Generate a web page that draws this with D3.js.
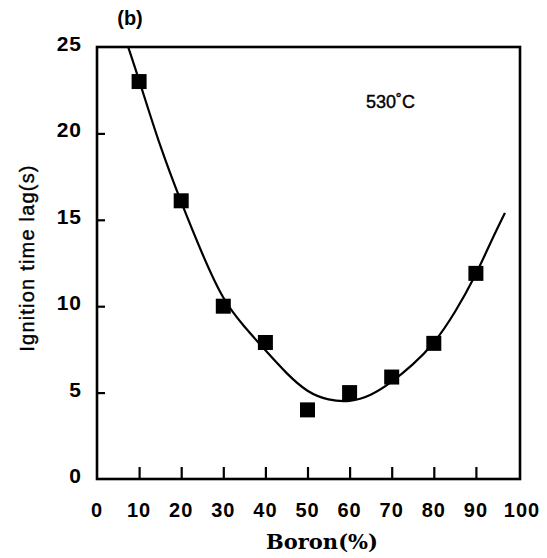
<!DOCTYPE html>
<html>
<head>
<meta charset="utf-8">
<script src="https://cdn.jsdelivr.net/npm/d3@7"></script>
<style>
  body { margin: 0; background: #fff; }
  svg { display: block; }
</style>
</head>
<body>
<svg id="chart" width="547" height="558"></svg>
<script>

// Measured points
const boron = [10, 20, 30, 40, 50, 60, 70, 80, 90];
const lag = [23.0, 16.1, 10.0, 7.9, 4.0, 5.0, 5.9, 7.85, 11.9];

// Fitted curve
const curveX = [7.4, 10, 15, 20, 25, 30, 35, 40, 45, 50, 55, 60, 65, 70, 75, 80, 85, 90, 93.3, 96.9];
const curveY = [25, 23.1, 19.2, 16.0, 13.0, 10.3, 8.8, 7.45, 6.1, 5.0, 4.55, 4.45, 4.8, 5.6, 6.6, 7.8, 9.6, 11.8, 13.6, 15.4];

const xTicks = [0, 10, 20, 30, 40, 50, 60, 70, 80, 90, 100];
const yTicks = [0, 5, 10, 15, 20, 25];

const margin = {left: 97, right: 27, top: 47, bottom: 79};
const width = 547, height = 558;
const innerW = width - margin.left - margin.right;
const innerH = height - margin.top - margin.bottom;

const svg = d3.select("#chart");
const g = svg.append("g")
    .attr("transform", `translate(${margin.left}, ${margin.top})`);

const x = d3.scaleLinear().domain([0, 100]).range([0, 421]);
const y = d3.scaleLinear().domain([0, 25]).range([innerH, 0]);

// Frame
g.append("rect")
    .attr("x", 0).attr("y", 0)
    .attr("width", innerW).attr("height", innerH)
    .attr("fill", "none")
    .attr("stroke", "#000")
    .attr("stroke-width", 2.6);

// Axes: inward ticks, labels drawn separately
const labelFont = "Liberation Sans, Arial, sans-serif";

const xAxis = g.append("g")
    .attr("transform", `translate(0, ${innerH})`)
    .call(d3.axisTop(x).tickValues(xTicks.slice(1, -1)).tickSize(12).tickFormat(""));
const yAxis = g.append("g")
    .call(d3.axisRight(y).tickValues(yTicks.slice(1, -1)).tickSize(8).tickFormat(""));
[xAxis, yAxis].forEach(a => {
    a.select(".domain").remove();
    a.selectAll("line").attr("stroke", "#000").attr("stroke-width", 2.2);
});

g.selectAll(".xlab")
    .data(xTicks)
    .join("text")
    .attr("x", d => x(d) + (d === 100 ? 4 : 0))
    .attr("y", innerH + 38)
    .attr("text-anchor", "middle")
    .attr("font-family", labelFont)
    .attr("font-weight", "bold")
    .attr("font-size", 20)
    .attr("letter-spacing", 1)
    .text(d => d);

g.selectAll(".ylab")
    .data(yTicks)
    .join("text")
    .attr("x", -15)
    .attr("y", d => y(d) + 4)
    .attr("text-anchor", "end")
    .attr("font-family", labelFont)
    .attr("font-weight", "bold")
    .attr("font-size", 21)
    .attr("letter-spacing", 1)
    .text(d => d);

// Curve
const curveData = curveX.map((v, i) => [v, curveY[i]]);
g.append("path")
    .datum(curveData)
    .attr("fill", "none")
    .attr("stroke", "#000")
    .attr("stroke-width", 2.2)
    .attr("d", d3.line()
        .x(d => x(d[0]))
        .y(d => y(d[1]))
        .curve(d3.curveBasis));

// Square markers
const size = 15;
g.selectAll(".pt")
    .data(boron.map((b, i) => [b, lag[i]]))
    .join("rect")
    .attr("x", d => x(d[0]) - size / 2)
    .attr("y", d => y(d[1]) - size / 2)
    .attr("width", size)
    .attr("height", size)
    .attr("fill", "#000");

// Annotations
svg.append("text")
    .attr("x", 130).attr("y", 25)
    .attr("text-anchor", "middle")
    .attr("font-family", labelFont)
    .attr("font-weight", "bold")
    .attr("font-size", 20)
    .text("(b)");

svg.append("text")
    .attr("x", 366).attr("y", 108)
    .attr("font-family", labelFont)
    .attr("font-size", 18)
    .attr("stroke", "#000")
    .attr("stroke-width", 0.4)
    .text("530˚C");

svg.append("text")
    .attr("x", 322).attr("y", 549)
    .attr("text-anchor", "middle")
    .attr("font-family", "DejaVu Serif, serif")
    .attr("font-weight", "bold")
    .attr("font-size", 21)
    .text("Boron(%)");

svg.append("text")
    .attr("transform", "translate(34, 258) rotate(-90)")
    .attr("text-anchor", "middle")
    .attr("font-family", labelFont)
    .attr("font-size", 20)
    .attr("letter-spacing", 1.2)
    .attr("stroke", "#000")
    .attr("stroke-width", 0.4)
    .text("Ignition time lag(s)");

</script>
</body>
</html>
